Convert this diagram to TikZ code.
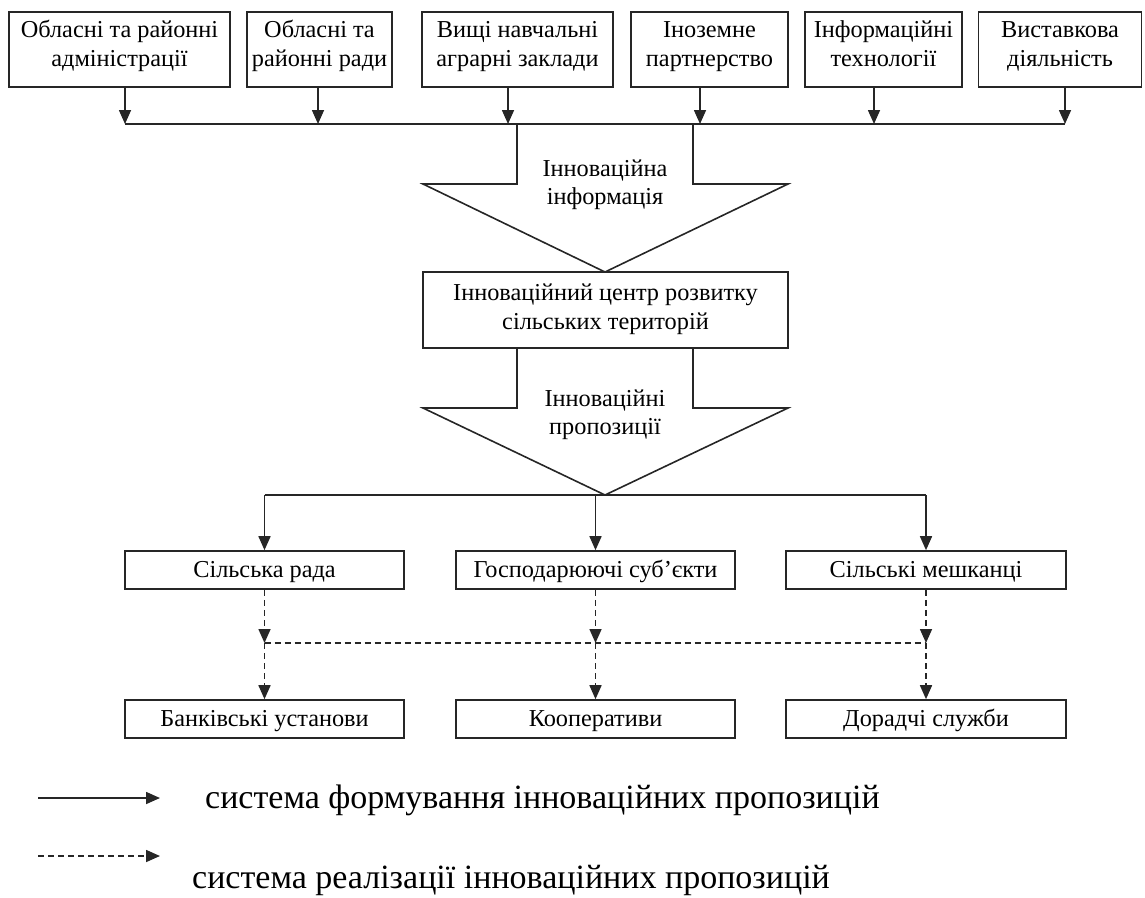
\documentclass[tikz,border=0pt]{standalone}
\usepackage{fontspec}
\setmainfont{Liberation Serif}
\usetikzlibrary{arrows.meta}
\newcommand\tlS{\rule{0pt}{18pt}}
\newcommand\blS{\rule[-12.6pt]{0pt}{0pt}}
\begin{document}
\begin{tikzpicture}[x=1pt,y=-1pt,
  lw/.style={line width=1.6pt,draw=black!85},
  box/.style={lw,inner sep=0pt,align=center,font=\fontsize{24.3}{29}\selectfont},
  sbox/.style={box,minimum height=38pt,text height=19pt,text depth=5pt},
  lbl/.style={inner sep=0pt,align=center,font=\fontsize{24.3}{28.5}\selectfont},
  arr/.style={lw,-{Triangle[length=14pt,width=12pt]}},
  darr/.style={arr,dash pattern=on 6pt off 4pt},
  dln/.style={lw,dash pattern=on 6pt off 4pt},
  leg/.style={inner sep=0pt,anchor=base west,font=\fontsize{34}{40}\selectfont}]
\useasboundingbox (0,0) rectangle (1145,897);
% top boxes
\node[box,minimum width=221pt,minimum height=75pt] (b1) at (119.5,49.5) {\tlS Обласні та районні\\адміністрації\blS};
\node[box,minimum width=145pt,minimum height=75pt] (b2) at (319.5,49.5) {\tlS Обласні та\\районні ради\blS};
\node[box,minimum width=191pt,minimum height=75pt] (b3) at (517.5,49.5) {\tlS Вищі навчальні\\аграрні заклади\blS};
\node[box,minimum width=157pt,minimum height=75pt] (b4) at (709.5,49.5) {\tlS Іноземне\\партнерство\blS};
\node[box,minimum width=157pt,minimum height=75pt] (b5) at (883.5,49.5) {\tlS Інформаційні\\технології\blS};
\node[box,minimum width=163pt,minimum height=75pt] (b6) at (1060,49.5) {\tlS Виставкова\\діяльність\blS};
% bus
\coordinate (t1) at (125,124);
\coordinate (t2) at (318,124);
\coordinate (t3) at (508,124);
\coordinate (t4) at (700,124);
\coordinate (t5) at (874,124);
\coordinate (t6) at (1065,124);
\foreach \i in {1,...,6}{\draw[arr] (b\i.south -| t\i) -- (t\i);}
\draw[lw] (t1) -- (t6);
% big arrow 1
\draw[lw,line join=miter] (517,124) -- (517,184) -- (423,184) -- (605,272) -- (788,184) -- (693,184) -- (693,124);
\node[lbl] (a1) at (605,185) {Інноваційна\\інформація};
% centre box
\node[box,minimum width=365pt,minimum height=76pt] (c) at (605.5,310) {\tlS Інноваційний центр розвитку\\сільських територій\rule[-9pt]{0pt}{0pt}};
% big arrow 2
\draw[lw,line join=miter] (517,348) -- (517,408) -- (423,408) -- (605,495) -- (788,408) -- (693,408) -- (693,348);
\node[lbl] (a2) at (605,415) {Інноваційні\\пропозиції};
% middle row
\node[sbox,minimum width=279pt] (m1) at (264.5,570) {Сільська рада};
\node[sbox,minimum width=279pt] (m2) at (595.5,570) {Господарюючі суб’єкти};
\node[sbox,minimum width=280pt] (m3) at (926,570) {Сільські мешканці};
% bottom row
\node[sbox,minimum width=279pt] (n1) at (264.5,719) {Банківські установи};
\node[sbox,minimum width=279pt] (n2) at (595.5,719) {Кооперативи};
\node[sbox,minimum width=280pt] (n3) at (926,719) {Дорадчі служби};
% distribution line
\coordinate (s1) at (264.5,495);
\coordinate (s3) at (926,495);
\draw[lw] (s1) -- (s3);
\draw[arr] (s1) -- (m1.north);
\draw[arr] (m2.north |- s1) -- (m2.north);
\draw[arr] (s3) -- (m3.north);
% dashed
\coordinate (d1) at (264.5,643);
\coordinate (d3) at (926,643);
\draw[dln] (d1) -- (d3);
\foreach \i in {1,2,3}{
  \draw[darr] (m\i.south) -- (m\i.south |- d1);
  \draw[darr] (m\i.south |- d1) -- (n\i.north);
}
% legend
\coordinate (l1a) at (38,798);
\coordinate (l1b) at (160,798);
\coordinate (l2a) at (38,856);
\coordinate (l2b) at (160,856);
\draw[arr] (l1a) -- (l1b);
\draw[darr] (l2a) -- (l2b);
\node[leg] (g1) at (205,808) {система формування інноваційних пропозицій};
\node[leg] (g2) at (192,888) {система реалізації інноваційних пропозицій};
\end{tikzpicture}
\end{document}
